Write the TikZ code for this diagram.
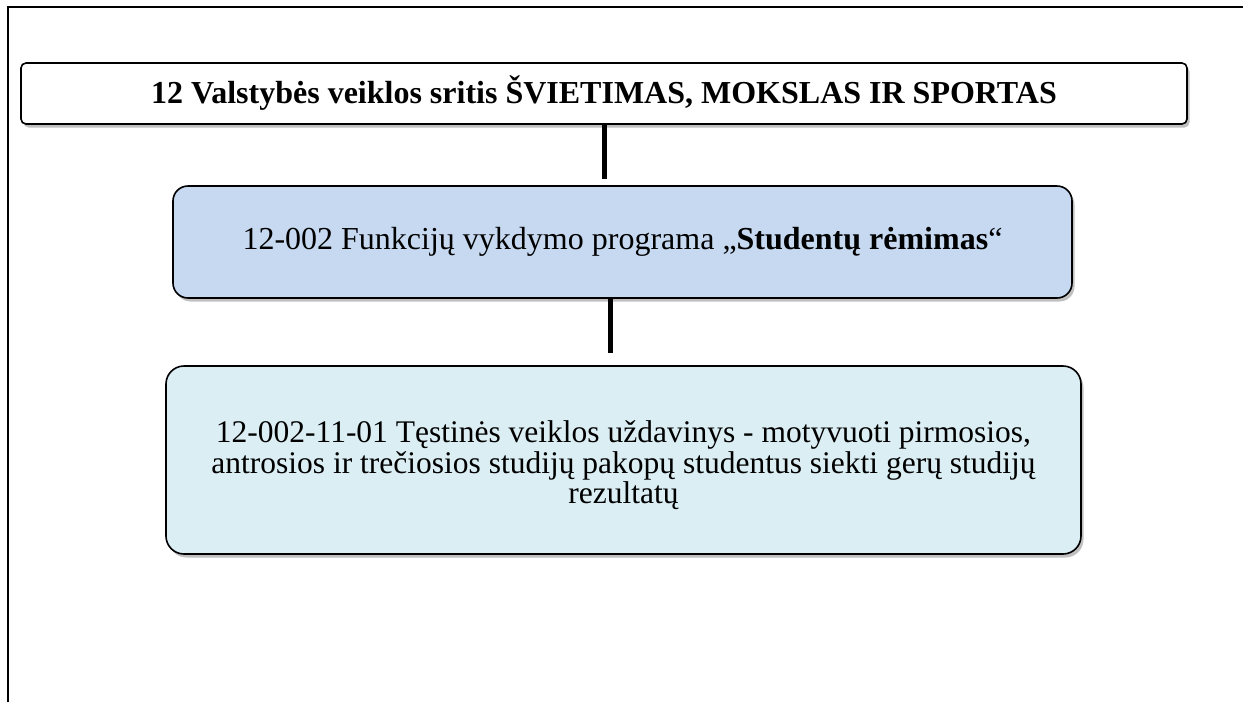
\documentclass[tikz,border=0pt]{standalone}
\usepackage{fontspec}
\setmainfont{Liberation Serif}
\usetikzlibrary{shadows,positioning}
\definecolor{progblue}{HTML}{C6D9F1}
\definecolor{taskblue}{HTML}{DBEEF4}
\tikzset{
  boxbase/.style={draw=black, line width=1.6pt, align=center, inner sep=0pt,
    drop shadow={shadow xshift=2.5pt, shadow yshift=-3.5pt, opacity=0.35, fill=black!70}},
  conn/.style={draw=black, line width=5pt},
  frameline/.style={draw=black, line width=1.5pt}
}
\begin{document}
\begin{tikzpicture}[x=1pt,y=1pt]
\useasboundingbox (0,0) rectangle (1243,-702);
\fill[white] (0,0) rectangle (1243,-702);
\draw[frameline] (8,-702) -- (8,-7) -- (1243,-7);
\node[boxbase, fill=white, rounded corners=5pt, minimum width=1166pt, minimum height=61pt,
  font=\fontsize{32}{36}\selectfont\bfseries] (top) at (604,-93.5)
  {12 Valstybės veiklos sritis ŠVIETIMAS, MOKSLAS IR SPORTAS};
\node[boxbase, fill=progblue, rounded corners=15pt, minimum width=899pt, minimum height=112pt,
  font=\fontsize{32}{36}\selectfont] (prog) at (622.5,-242)
  {12-002 Funkcijų vykdymo programa „\textbf{Studentų rėmimas}“};
\node[boxbase, fill=taskblue, rounded corners=18pt, minimum width=915pt, minimum height=188pt,
  font=\fontsize{31.5}{30.5}\selectfont] (task) at (623.5,-460)
  {\rule{0pt}{33pt}12-002-11-01 Tęstinės veiklos uždavinys - motyvuoti pirmosios,\\
   antrosios ir trečiosios studijų pakopų studentus siekti gerų studijų\\
   rezultatų};
\draw[conn] (top.south) -- ++(0,-54);
\draw[conn] ([xshift=-12.5pt]prog.south) -- ++(0,-54);
\end{tikzpicture}
\end{document}
